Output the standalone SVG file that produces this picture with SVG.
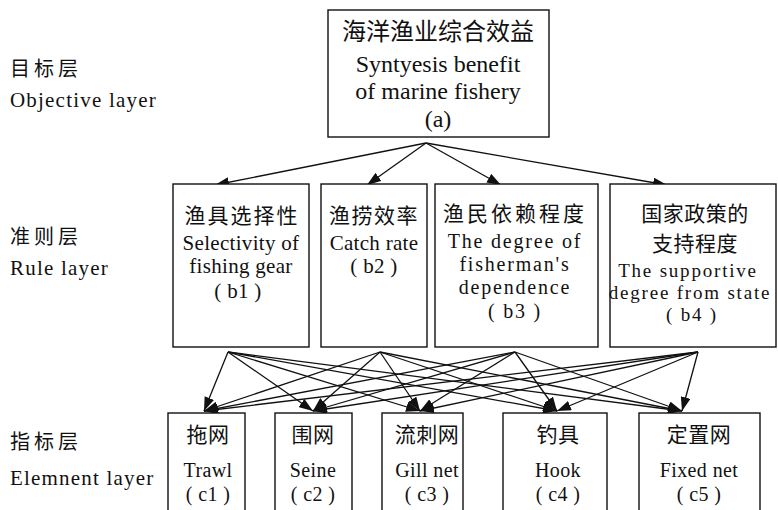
<svg xmlns="http://www.w3.org/2000/svg" width="778" height="510" viewBox="0 0 778 510">
<defs>
<style>
text{font-family:"Liberation Serif","Noto Sans CJK SC",serif;fill:#111;}
.box{fill:#fff;stroke:#111;stroke-width:1.4;}
.lbl{font-size:21px;letter-spacing:1.2px;}
.lzh{font-size:20px;letter-spacing:4px;}
.t{font-size:24px;text-anchor:middle;}
.m{font-size:21px;text-anchor:middle;letter-spacing:0.3px;}
.mw{font-size:20px;text-anchor:middle;letter-spacing:1.8px;}
.mz{font-size:21px;text-anchor:middle;letter-spacing:1.5px;}
.b{font-size:20px;text-anchor:middle;letter-spacing:0.4px;}
.bz{font-size:21px;text-anchor:middle;letter-spacing:0.5px;}
.edge{stroke:#111;stroke-width:1.3;fill:none;marker-end:url(#ah);}
</style>
<marker id="ah" markerUnits="userSpaceOnUse" markerWidth="14" markerHeight="10" refX="14" refY="5" orient="auto">
<path d="M0,0 L14,5 L0,10 z" fill="#111"/>
</marker>
</defs>
<rect width="778" height="510" fill="#fff"/>

<g id="layer-labels">
<text class="lzh" x="10" y="76">目标层</text>
<text class="lbl" x="10" y="107">Objective layer</text>
<text class="lzh" x="10" y="244">准则层</text>
<text class="lbl" x="10" y="275">Rule layer</text>
<text class="lzh" x="10" y="449">指标层</text>
<text class="lbl" x="10" y="485">Elemnent layer</text>
</g>

<g id="connectors">
<line class="edge" x1="426" y1="143" x2="215" y2="185"/>
<line class="edge" x1="426" y1="143" x2="367" y2="185"/>
<line class="edge" x1="426" y1="143" x2="501" y2="185"/>
<line class="edge" x1="426" y1="143" x2="667" y2="185"/>

<line class="edge" x1="228" y1="352" x2="204" y2="411"/>
<line class="edge" x1="228" y1="352" x2="313" y2="411"/>
<line class="edge" x1="228" y1="352" x2="420" y2="411"/>
<line class="edge" x1="228" y1="352" x2="557" y2="411"/>
<line class="edge" x1="228" y1="352" x2="682" y2="411"/>

<line class="edge" x1="380" y1="352" x2="204" y2="411"/>
<line class="edge" x1="380" y1="352" x2="313" y2="411"/>
<line class="edge" x1="380" y1="352" x2="420" y2="411"/>
<line class="edge" x1="380" y1="352" x2="557" y2="411"/>
<line class="edge" x1="380" y1="352" x2="682" y2="411"/>

<line class="edge" x1="515" y1="352" x2="204" y2="411"/>
<line class="edge" x1="515" y1="352" x2="313" y2="411"/>
<line class="edge" x1="515" y1="352" x2="420" y2="411"/>
<line class="edge" x1="515" y1="352" x2="557" y2="411"/>
<line class="edge" x1="515" y1="352" x2="682" y2="411"/>

<line class="edge" x1="698" y1="352" x2="204" y2="411"/>
<line class="edge" x1="698" y1="352" x2="313" y2="411"/>
<line class="edge" x1="698" y1="352" x2="420" y2="411"/>
<line class="edge" x1="698" y1="352" x2="557" y2="411"/>
<line class="edge" x1="698" y1="352" x2="682" y2="411"/>
</g>

<g id="node-a">
<rect class="box" x="328" y="10" width="221" height="127"/>
<text class="t" x="438" y="40">海洋渔业综合效益</text>
<text class="t" x="438" y="72">Syntyesis benefit</text>
<text class="t" x="438" y="99">of marine fishery</text>
<text class="t" x="438" y="127">(a)</text>
</g>

<g id="node-b1">
<rect class="box" x="173" y="184" width="136" height="163"/>
<text class="mz" x="242" y="223" style="letter-spacing:2px">渔具选择性</text>
<text class="m" x="241" y="250">Selectivity of</text>
<text class="m" x="241" y="273">fishing gear</text>
<text class="m" x="238" y="298">( b1 )</text>
</g>

<g id="node-b2">
<rect class="box" x="321" y="184" width="106" height="163"/>
<text class="mz" x="374" y="223">渔捞效率</text>
<text class="m" x="374" y="250">Catch rate</text>
<text class="m" x="374" y="273">( b2 )</text>
</g>

<g id="node-b3">
<rect class="box" x="435" y="184" width="163" height="163"/>
<text class="mz" x="515" y="221" style="letter-spacing:3px">渔民依赖程度</text>
<text class="mw" x="515" y="248">The degree of</text>
<text class="mw" x="515" y="271">fisherman's</text>
<text class="mw" x="515" y="294">dependence</text>
<text class="mw" x="515" y="318">( b3 )</text>
</g>

<g id="node-b4">
<rect class="box" x="610" y="184" width="166" height="163"/>
<text class="mz" x="695" y="221" style="letter-spacing:0.5px">国家政策的</text>
<text class="mz" x="695" y="251" style="letter-spacing:0.5px">支持程度</text>
<text class="mw" x="688" y="277" style="font-size:19px">The supportive</text>
<text class="mw" x="690" y="299" style="font-size:19px">degree from state</text>
<text class="mw" x="692" y="321" style="font-size:19px">( b4 )</text>
</g>

<g id="node-c1">
<rect class="box" x="168" y="413" width="77" height="110"/>
<text class="bz" x="208" y="442">拖网</text>
<text class="b" x="208" y="477">Trawl</text>
<text class="b" x="208" y="501">( c1 )</text>
</g>

<g id="node-c2">
<rect class="box" x="275" y="413" width="77" height="110"/>
<text class="bz" x="313" y="442">围网</text>
<text class="b" x="313" y="477">Seine</text>
<text class="b" x="313" y="501">( c2 )</text>
</g>

<g id="node-c3">
<rect class="box" x="382" y="413" width="81" height="110"/>
<text class="bz" x="427" y="442">流刺网</text>
<text class="b" x="427" y="477">Gill net</text>
<text class="b" x="427" y="501">( c3 )</text>
</g>

<g id="node-c4">
<rect class="box" x="503" y="413" width="104" height="110"/>
<text class="bz" x="558" y="442">钓具</text>
<text class="b" x="558" y="477">Hook</text>
<text class="b" x="558" y="501">( c4 )</text>
</g>

<g id="node-c5">
<rect class="box" x="639" y="413" width="121" height="110"/>
<text class="bz" x="699" y="442">定置网</text>
<text class="b" x="699" y="477">Fixed net</text>
<text class="b" x="699" y="501">( c5 )</text>
</g>
</svg>
